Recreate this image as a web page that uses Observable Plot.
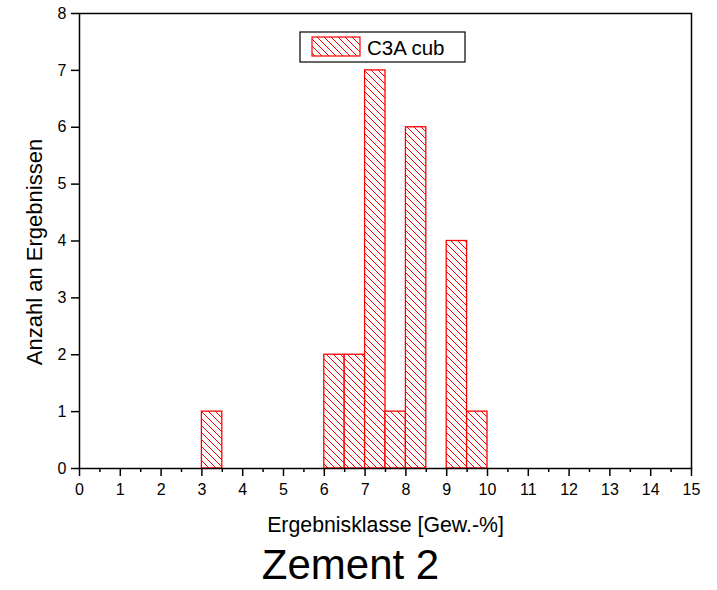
<!DOCTYPE html>
<html>
<head>
<meta charset="utf-8">
<script src="https://cdn.jsdelivr.net/npm/d3@7"></script>
<script src="https://cdn.jsdelivr.net/npm/@observablehq/plot@0.6"></script>
<style>
  body { margin: 0; background: #fff; }
  #chart { width: 717px; height: 590px; }
</style>
</head>
<body>
<div id="chart"></div>
<script>
// Data
const binLow  = [3, 6, 6.5, 7, 7.5, 8, 9, 9.5];
const binHigh = [3.5, 6.5, 7, 7.5, 8, 8.5, 9.5, 10];
const counts  = [1, 2, 2, 7, 1, 6, 4, 1];
const xMajorTicks = [0,1,2,3,4,5,6,7,8,9,10,11,12,13,14,15];
const xMinorTicks = [0.5,1.5,2.5,3.5,4.5,5.5,6.5,7.5,8.5,9.5,10.5,11.5,12.5,13.5,14.5];
const yTicks = [0,1,2,3,4,5,6,7,8];
const seriesName = "C3A cub";
const xLabel = "Ergebnisklasse [Gew.-%]";
const yLabel = "Anzahl an Ergebnissen";
const title = "Zement 2";

const table = binLow.map((lo, i) => ({lo, hi: binHigh[i], n: counts[i]}));
const font = "'Liberation Sans', Arial, Helvetica, sans-serif";

const chart = Plot.plot({
  width: 717,
  height: 590,
  marginLeft: 79,
  marginRight: 26,
  marginTop: 13,
  marginBottom: 122,
  style: {fontFamily: font, fontSize: "16px", color: "black", background: "white", overflow: "visible"},
  x: {domain: [0, 15], axis: null},
  y: {domain: [0, 8], axis: null},
  marks: [
    Plot.rectY(table, {x1: "lo", x2: "hi", y: "n", fill: "url(#hatch)", stroke: "#ff0000", strokeWidth: 1.3}),
    Plot.frame({stroke: "black", strokeWidth: 1.5}),
    Plot.axisX({ticks: xMinorTicks, tickSize: 4, tickFormat: () => "", label: null, strokeWidth: 1.5}),
    Plot.axisX({ticks: xMajorTicks, tickSize: 8, tickPadding: 7, tickFormat: d => String(d), label: null, strokeWidth: 1.5, fontSize: 16}),
    Plot.axisY({ticks: yTicks, tickSize: 8, tickPadding: 5, tickFormat: d => String(d), label: null, strokeWidth: 1.5, fontSize: 16}),
    Plot.text([yLabel], {text: d => d, frameAnchor: "left", rotate: -90, dx: -38, dy: 11, lineAnchor: "bottom", textAnchor: "middle", fontSize: 22, fill: "black"}),
    Plot.text([xLabel], {text: d => d, frameAnchor: "bottom", dy: 63, lineAnchor: "bottom", textAnchor: "middle", fontSize: 21.3, fill: "black"}),
    Plot.text([title], {text: d => d, frameAnchor: "bottom", dx: -35, dy: 110.5, lineAnchor: "bottom", textAnchor: "middle", fontSize: 42, fill: "black"})
  ]
});

const svg = d3.select(chart);
svg.selectAll('g[aria-label="x-axis tick label"], g[aria-label="y-axis tick label"]')
  .attr("font-size", 16).style("font-size", "16px");

const defs = svg.insert("defs", ":first-child");
const pat = defs.append("pattern")
  .attr("id", "hatch")
  .attr("patternUnits", "userSpaceOnUse")
  .attr("width", 7).attr("height", 7);
pat.append("rect").attr("width", 7).attr("height", 7).attr("fill", "white");
pat.append("path")
  .attr("d", "M0,0L7,7M-1,6L1,8M6,-1L8,1")
  .attr("stroke", "#ff0000").attr("stroke-width", 1).attr("fill", "none");

// Legend box
const lg = svg.append("g").attr("class", "legend");
lg.append("rect").attr("x", 300).attr("y", 32).attr("width", 165).attr("height", 30)
  .attr("fill", "white").attr("stroke", "black").attr("stroke-width", 1.2);
lg.append("rect").attr("x", 312).attr("y", 37).attr("width", 48).attr("height", 19)
  .attr("fill", "url(#hatch)").attr("stroke", "#ff0000").attr("stroke-width", 1.2);
lg.append("text").attr("x", 367).attr("y", 55).text(seriesName)
  .attr("text-anchor", "start")
  .attr("font-family", font).attr("font-size", 20.5).attr("fill", "black");

document.getElementById("chart").appendChild(chart);
</script>
</body>
</html>
